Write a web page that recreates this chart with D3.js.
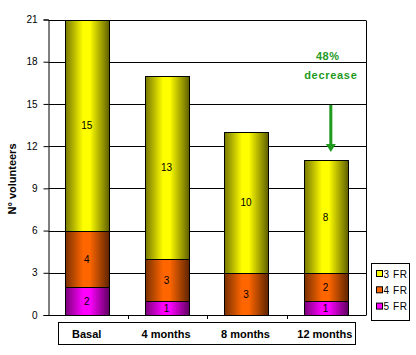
<!DOCTYPE html>
<html><head><meta charset="utf-8">
<script src="https://cdn.jsdelivr.net/npm/d3@7"></script>
<style>body{margin:0;background:#fff}svg{display:block}</style>
</head><body>
<script>
const categories = ["Basal", "4 months", "8 months", "12 months"];
const fr3 = [15, 13, 10, 8];
const fr4 = [4, 3, 3, 2];
const fr5 = [2, 1, 0, 1];
const seriesNames = ["5 FR", "4 FR", "3 FR"];
const yTicks = [0, 3, 6, 9, 12, 15, 18, 21];
const legendOrder = ["3 FR", "4 FR", "5 FR"];
const annotation = ["48%", "decrease"];

(function () {
const W = 416, H = 355;
const svg = d3.select("body").append("svg").attr("width", W).attr("height", H);
const defs = svg.append("defs");

const colors = {
  "3 FR": ["#777700", "#ffff00", "#5e5e00"],
  "4 FR": ["#7a3000", "#ff6600", "#5e2400"],
  "5 FR": ["#7a007a", "#ff00ff", "#5e005e"]
};
Object.entries(colors).forEach(([k, c], i) => {
  const g = defs.append("linearGradient").attr("id", "g" + i).attr("x1", "0").attr("x2", "1").attr("y1", "0").attr("y2", "0");
  g.append("stop").attr("offset", "0").attr("stop-color", c[0]);
  g.append("stop").attr("offset", "0.4").attr("stop-color", c[1]);
  g.append("stop").attr("offset", "0.55").attr("stop-color", c[1]);
  g.append("stop").attr("offset", "1").attr("stop-color", c[2]);
});
const gradId = k => "url(#g" + Object.keys(colors).indexOf(k) + ")";

const pL = 48.5, pR = 366, pT = 19.5, pB = 315;
const x = d3.scaleBand().domain(categories).range([pL, pR]).paddingInner(0.45).paddingOuter(0.22);
const xb = d3.scaleBand().domain(categories).range([pL, pR]);
const y = d3.scaleLinear().domain([0, 21]).range([pB, pT]);

// gridlines
svg.append("g").selectAll("line").data(yTicks).join("line")
  .attr("x1", pL).attr("x2", pR)
  .attr("y1", d => Math.round(y(d)) + 0.5).attr("y2", d => Math.round(y(d)) + 0.5)
  .attr("stroke", "#000").attr("stroke-width", 1);
// right border
svg.append("line").attr("x1", pR + 0.5).attr("x2", pR + 0.5).attr("y1", Math.round(y(21)) + 0.5).attr("y2", Math.round(y(0)) + 0.5).attr("stroke", "#000");

// y axis
const yAxis = d3.axisLeft(y).tickValues(yTicks).tickSize(5).tickPadding(6).tickFormat(d3.format("d"));
const ya = svg.append("g").attr("transform", `translate(${pL},0)`).call(yAxis);
ya.select(".domain").attr("stroke", "#000");
ya.selectAll("text").attr("font-family", "Arial, 'Liberation Sans', sans-serif").attr("font-size", 10).attr("fill", "#000");
ya.selectAll(".tick line").attr("stroke", "#000");

// x ticks at boundaries
const bounds = categories.slice(1).map(c => xb(c));
svg.append("g").selectAll("line").data(bounds).join("line")
  .attr("x1", d => Math.round(d) + 0.5).attr("x2", d => Math.round(d) + 0.5)
  .attr("y1", pB).attr("y2", pB + 4).attr("stroke", "#000");

// stacked data
const rows = categories.map((c, i) => ({ cat: c, "5 FR": fr5[i], "4 FR": fr4[i], "3 FR": fr3[i] }));
const stack = d3.stack().keys(seriesNames)(rows);

const bw = x.bandwidth();
stack.forEach(layer => {
  const g = svg.append("g");
  g.selectAll("rect").data(layer.filter(d => d[1] - d[0] > 0)).join("rect")
    .attr("x", d => Math.round(x(d.data.cat) - 1) + 0.5)
    .attr("width", Math.round(bw))
    .attr("y", d => Math.round(y(d[1])) + 0.5)
    .attr("height", d => Math.round(y(d[0])) - Math.round(y(d[1])))
    .attr("fill", gradId(layer.key)).attr("stroke", "#000").attr("stroke-width", 1);
  g.selectAll("text").data(layer.filter(d => d[1] - d[0] > 0)).join("text")
    .attr("x", d => x(d.data.cat) - 1 + bw / 2)
    .attr("y", d => y((d[0] + d[1]) / 2) + 4)
    .attr("text-anchor", "middle")
    .attr("font-family", "Arial, 'Liberation Sans', sans-serif").attr("font-size", 10).attr("fill", "#000")
    .text(d => d[1] - d[0]);
});

// category label box
svg.append("rect").attr("x", 58.5).attr("y", 322.5).attr("width", 297).attr("height", 22)
  .attr("fill", "#fff").attr("stroke", "#000");
svg.append("g").selectAll("text").data(categories).join("text")
  .attr("x", d => xb(d) + xb.bandwidth() / 2 - 1.5)
  .attr("y", 337.5).attr("text-anchor", "middle")
  .attr("font-family", "Arial, 'Liberation Sans', sans-serif").attr("font-size", 11).attr("font-weight", "bold")
  .text(d => d);

// y title
svg.append("text").attr("transform", "translate(16,179) rotate(-90)")
  .attr("text-anchor", "middle").attr("font-family", "Arial, 'Liberation Sans', sans-serif")
  .attr("font-size", 11).attr("font-weight", "bold").text("N° volunteers");

// annotation
const green = "#1f9a1f";
const ax = xb("12 months") + xb.bandwidth() / 2 + 4.5;
svg.append("text").attr("x", ax - 3).attr("y", 59.5).attr("text-anchor", "middle")
  .attr("font-family", "Arial, 'Liberation Sans', sans-serif").attr("font-size", 11).attr("font-weight", "bold")
  .attr("letter-spacing", 0.6).attr("fill", green).text(annotation[0]);
svg.append("text").attr("x", ax).attr("y", 78.5).attr("text-anchor", "middle")
  .attr("font-family", "Arial, 'Liberation Sans', sans-serif").attr("font-size", 11).attr("font-weight", "bold")
  .attr("letter-spacing", 0.7).attr("fill", green).text(annotation[1]);
svg.append("line").attr("x1", ax).attr("x2", ax).attr("y1", 105).attr("y2", 145)
  .attr("stroke", green).attr("stroke-width", 3);
svg.append("path").attr("d", `M${ax - 5},144 L${ax + 5},144 L${ax},152 Z`).attr("fill", green);

// legend
const lg = svg.append("g");
lg.append("rect").attr("x", 371.5).attr("y", 263.5).attr("width", 38).attr("height", 57)
  .attr("fill", "#fff").attr("stroke", "#000");
legendOrder.forEach((k, i) => {
  const cy = 274 + i * 16.3;
  lg.append("rect").attr("x", 376.5).attr("y", cy - 3.5).attr("width", 6).attr("height", 6)
    .attr("fill", colors[k][1]).attr("stroke", "#000");
  lg.append("text").attr("x", 383.5).attr("y", cy + 3.5)
    .attr("font-family", "Arial, 'Liberation Sans', sans-serif").attr("font-size", 10)
    .attr("letter-spacing", 0.6).text(k);
});
})();
</script>
</body></html>
